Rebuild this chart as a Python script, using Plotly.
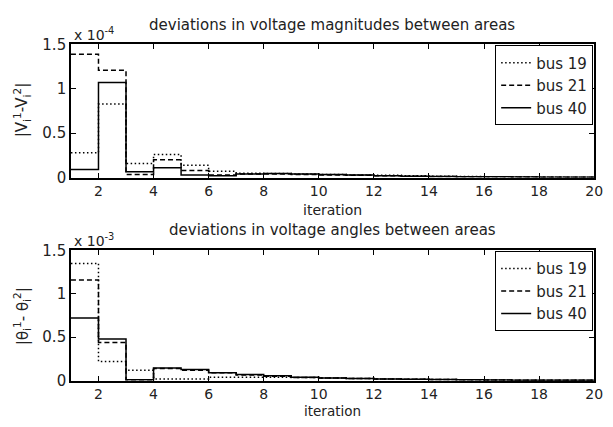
import plotly.graph_objects as go

iterations = list(range(1, 21))

# top panel values, units of 1e-4
mag_bus19 = [0.28, 0.83, 0.16, 0.26, 0.14, 0.07, 0.05, 0.045, 0.04, 0.035, 0.03, 0.025, 0.02, 0.015, 0.012, 0.01, 0.008, 0.006, 0.005, 0.004]
mag_bus21 = [1.39, 1.21, 0.035, 0.20, 0.08, 0.03, 0.04, 0.04, 0.035, 0.03, 0.025, 0.02, 0.015, 0.012, 0.01, 0.008, 0.006, 0.005, 0.004, 0.003]
mag_bus40 = [0.09, 1.07, 0.065, 0.11, 0.03, 0.02, 0.04, 0.045, 0.04, 0.035, 0.03, 0.02, 0.015, 0.012, 0.01, 0.008, 0.006, 0.005, 0.004, 0.003]

# bottom panel values, units of 1e-3
ang_bus19 = [1.35, 0.22, 0.12, 0.02, 0.02, 0.04, 0.04, 0.04, 0.035, 0.03, 0.025, 0.02, 0.015, 0.012, 0.01, 0.008, 0.006, 0.005, 0.004, 0.003]
ang_bus21 = [1.16, 0.44, 0.01, 0.14, 0.12, 0.09, 0.065, 0.05, 0.035, 0.03, 0.025, 0.02, 0.015, 0.012, 0.01, 0.008, 0.006, 0.005, 0.004, 0.003]
ang_bus40 = [0.72, 0.48, 0.01, 0.145, 0.127, 0.09, 0.07, 0.055, 0.04, 0.03, 0.025, 0.02, 0.015, 0.012, 0.01, 0.008, 0.006, 0.005, 0.004, 0.003]

names = ["bus 19", "bus 21", "bus 40"]
dashes = ["1.5px,2.5px", "5px,3px", "solid"]

W, H = 613, 427
FONT = "DejaVu Sans"
TXT = "#222"

fig = go.Figure()

for vals, nm, ds in zip([mag_bus19, mag_bus21, mag_bus40], names, dashes):
    fig.add_trace(go.Scatter(x=iterations, y=vals, mode="lines", name=nm,
                             line=dict(color="black", width=1.5, dash=ds, shape="hv"),
                             xaxis="x", yaxis="y", legend="legend"))
for vals, nm, ds in zip([ang_bus19, ang_bus21, ang_bus40], names, dashes):
    fig.add_trace(go.Scatter(x=iterations, y=vals, mode="lines", name=nm,
                             line=dict(color="black", width=1.5, dash=ds, shape="hv"),
                             xaxis="x2", yaxis="y2", legend="legend2"))

xl, xr = 72 / W, 603 / W
top_dom = [1 - 176 / H, 1 - 37 / H]
bot_dom = [1 - 388 / H, 1 - 252 / H]

axcommon = dict(showline=True, linecolor="black", linewidth=1.5, mirror="ticks",
                ticks="inside", ticklen=5, tickcolor="black", tickwidth=1,
                showgrid=False, zeroline=False)

xfont = dict(family=FONT, size=14, color=TXT)
yfont = dict(family=FONT, size=15, color=TXT)

legcommon = dict(x=xr - 1 / W, xanchor="right", yanchor="top",
                 bordercolor="black", borderwidth=1, bgcolor="white",
                 font=dict(family=FONT, size=15, color=TXT), itemwidth=30,
                 tracegroupgap=0)

fig.update_layout(
    width=W, height=H, margin=dict(l=0, r=0, t=0, b=0),
    paper_bgcolor="white", plot_bgcolor="white",
    xaxis=dict(domain=[xl, xr], anchor="y", range=[1, 20], tickvals=list(range(2, 21, 2)),
               tickfont=xfont, **axcommon),
    yaxis=dict(domain=top_dom, anchor="x", range=[0, 1.5], tickvals=[0, 0.5, 1, 1.5],
               ticktext=["0", "0.5", "1", "1.5"], tickfont=yfont, **axcommon),
    xaxis2=dict(domain=[xl, xr], anchor="y2", range=[1, 20], tickvals=list(range(2, 21, 2)),
                tickfont=xfont, **axcommon),
    yaxis2=dict(domain=bot_dom, anchor="x2", range=[0, 1.5], tickvals=[0, 0.5, 1, 1.5],
                ticktext=["0", "0.5", "1", "1.5"], tickfont=yfont, **axcommon),
    legend=dict(y=1 - 38 / H, **legcommon),
    legend2=dict(y=1 - 253 / H, **legcommon),
)

tfont = dict(family=FONT, size=15, color=TXT)
ann = [
    dict(text="deviations in voltage magnitudes between areas", x=337 / W, y=1 - 17 / H, font=tfont),
    dict(text="deviations in voltage angles between areas", x=337 / W, y=1 - 231 / H, font=tfont),
    dict(text="iteration", x=337 / W, y=1 - 210 / H, font=dict(family=FONT, size=14, color=TXT)),
    dict(text="iteration", x=337 / W, y=1 - 420 / H, font=dict(family=FONT, size=13.5, color=TXT)),
    dict(text="x 10<sup>-4</sup>", x=73 / W, y=1 - 26 / H, xanchor="left", font=dict(family=FONT, size=14, color=TXT)),
    dict(text="x 10<sup>-3</sup>", x=73 / W, y=1 - 241 / H, xanchor="left", font=dict(family=FONT, size=14, color=TXT)),
    dict(text="|V<sub>i</sub><sup>1</sup>-V<sub>i</sub><sup>2</sup>|", x=22 / W, y=1 - 106 / H, textangle=-90,
         font=dict(family=FONT, size=15, color=TXT)),
    dict(text="|θ<sub>i</sub><sup>1</sup>- θ<sub>i</sub><sup>2</sup>|", x=22 / W, y=1 - 321 / H, textangle=-90,
         font=dict(family=FONT, size=15, color=TXT)),
]
for a in ann:
    a.setdefault("xanchor", "center")
    fig.add_annotation(xref="paper", yref="paper", showarrow=False, yanchor="middle", **a)

fig.write_html("out.html")
